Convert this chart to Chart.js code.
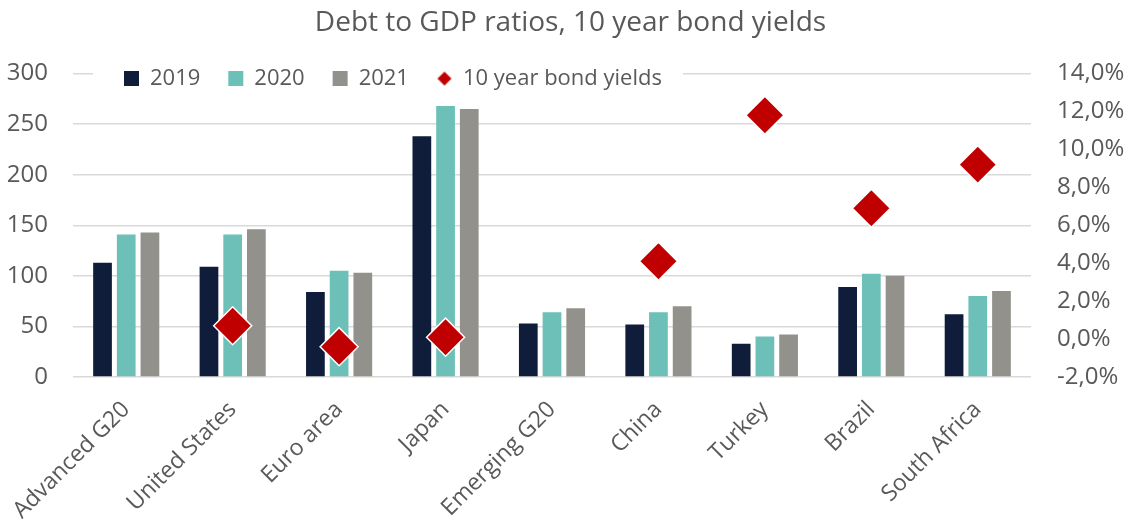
<!DOCTYPE html>
<html>
<head>
<meta charset="utf-8">
<script src="https://cdn.jsdelivr.net/npm/chart.js@4/dist/chart.umd.min.js"></script>
<style>
  html, body { margin: 0; padding: 0; background: #fff; }
  #wrap { width: 1141px; height: 523px; position: relative; }
</style>
</head>
<body>
<div id="wrap"><canvas id="c" width="1141" height="523"></canvas></div>
<script>
const categories = ['Advanced G20', 'United States', 'Euro area', 'Japan', 'Emerging G20', 'China', 'Turkey', 'Brazil', 'South Africa'];
const debt2019 = [113, 109, 84, 238, 53, 52, 33, 89, 62];
const debt2020 = [141, 141, 105, 268, 64, 64, 40, 102, 80];
const debt2021 = [143, 146, 103, 265, 68, 70, 42, 100, 85];
const bondYields = [null, 0.7, -0.4, 0.1, null, 4.1, 11.8, 6.9, 9.2];
const leftTicks = [0, 50, 100, 150, 200, 250, 300];
const rightTickLabels = ['-2,0%', '0,0%', '2,0%', '4,0%', '6,0%', '8,0%', '10,0%', '12,0%', '14,0%'];

const FONT = "'Open Sans', 'DejaVu Sans', sans-serif";
const TXT = '#595959';

// small diamond used as legend marker for the yields series
const diamond = document.createElement('canvas');
diamond.width = 16; diamond.height = 16;
(function () {
  const g = diamond.getContext('2d');
  g.fillStyle = '#c00000';
  g.beginPath();
  g.moveTo(8, 1); g.lineTo(15, 8); g.lineTo(8, 15); g.lineTo(1, 8); g.closePath();
  g.fill();
})();

const legendPatch = {
  id: 'legendPatch',
  beforeLayout(chart) {
    const lg = chart.legend;
    if (lg && !lg._patchedFit) {
      const origFit = lg.fit;
      lg.fit = function () { origFit.call(this); this.height = 34; };
      const origDraw = lg.draw;
      lg.draw = function () {
        const c = this.ctx;
        c.save();
        c.fillStyle = '#ffffff';
        c.fillRect(93, 62, 590, 28);
        c.restore();
        origDraw.call(this);
      };
      lg._patchedFit = true;
    }
  },
  beforeDraw(chart) {
    const lg = chart.legend;
    lg.left = 96;
    lg.bottom = lg.top + 80;
  }
};

new Chart(document.getElementById('c'), {
  data: {
    labels: categories,
    datasets: [
      { type: 'bar', label: '2019', data: debt2019, backgroundColor: '#0f1c3a', yAxisID: 'y', order: 1,
        categoryPercentage: 0.668, barPercentage: 0.79 },
      { type: 'bar', label: '2020', data: debt2020, backgroundColor: '#6cc0b8', yAxisID: 'y', order: 1,
        categoryPercentage: 0.668, barPercentage: 0.79 },
      { type: 'bar', label: '2021', data: debt2021, backgroundColor: '#92918c', yAxisID: 'y', order: 1,
        categoryPercentage: 0.668, barPercentage: 0.79 },
      { type: 'line', label: '10 year bond yields', data: bondYields, yAxisID: 'y1', order: 0,
        showLine: false, pointStyle: 'rectRot', pointRadius: 19, pointHoverRadius: 19,
        backgroundColor: '#c00000', borderColor: '#ffffff', pointBorderWidth: 1.5 }
    ]
  },
  options: {
    responsive: false,
    animation: false,
    layout: { padding: { left: 0, right: 0, top: 0, bottom: 0 } },
    plugins: {
      title: {
        display: true,
        text: 'Debt to GDP ratios, 10 year bond yields',
        color: TXT,
        font: { family: FONT, size: 28, weight: 'normal' },
        padding: { top: 6, bottom: 0 }
      },
      legend: {
        display: true,
        position: 'top',
        align: 'start',
        labels: {
          color: TXT,
          font: { family: FONT, size: 22 },
          usePointStyle: true,
          boxWidth: 15,
          boxHeight: 15,
          padding: 28,
          generateLabels(chart) {
            const items = Chart.defaults.plugins.legend.labels.generateLabels(chart);
            items.sort((a, b) => a.datasetIndex - b.datasetIndex);
            items.forEach((it) => {
              it.pointStyle = it.datasetIndex < 3 ? 'rect' : diamond;
              it.lineWidth = 0;
              it.strokeStyle = 'rgba(0,0,0,0)';
            });
            return items;
          }
        }
      },
      tooltip: { enabled: false }
    },
    scales: {
      x: {
        grid: { display: false, drawTicks: false },
        border: { display: false },
        ticks: { color: TXT, font: { family: FONT, size: 23 }, minRotation: 45, maxRotation: 45, padding: 19 },
        afterFit(s) { s.height = 146; s.paddingLeft = 0; s.paddingRight = 0; }
      },
      y: {
        position: 'left',
        min: 0, max: 300,
        afterBuildTicks(s) { s.ticks = leftTicks.map(v => ({ value: v })); },
        grid: { color: '#d9d9d9', lineWidth: 1.5, drawTicks: false },
        border: { display: false },
        ticks: { color: TXT, font: { family: FONT, size: 24 }, padding: 25 },
        afterFit(s) { s.width = 73; }
      },
      y1: {
        position: 'right',
        min: -2, max: 14,
        ticks: {
          stepSize: 2,
          color: TXT, font: { family: FONT, size: 24 }, padding: 26,
          callback(v, i) { return rightTickLabels[i]; }
        },
        grid: { display: false, drawTicks: false },
        border: { display: false },
        afterFit(s) { s.width = 110; }
      }
    }
  },
  plugins: [legendPatch]
});
</script>
</body>
</html>
